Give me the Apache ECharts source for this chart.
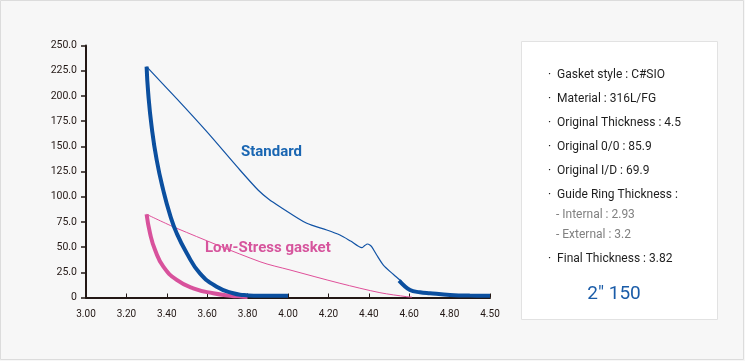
<!DOCTYPE html>
<html>
<head>
<meta charset="utf-8">
<script src="https://cdn.jsdelivr.net/npm/echarts@6/dist/echarts.min.js"></script>
<style>
html,body{margin:0;padding:0;background:#f7f7f7;}
#chart{width:745px;height:361px;}
</style>
</head>
<body>
<div id="chart"></div>
<script>
// X tick labels (as printed in the reference, last one reads 4.50)
var xTickLabels = ['3.00','3.20','3.40','3.60','3.80','4.00','4.20','4.40','4.60','4.80','4.50'];

// Standard gasket: loading curve (thick)
var standardLoad = [
  [3.300,229.0],[3.308,202.6],[3.325,169.4],[3.350,136.4],[3.383,106.0],[3.416,82.0],
  [3.449,63.7],[3.499,43.9],[3.564,24.0],[3.647,10.7],[3.729,4.2],[3.779,2.5],
  [3.830,1.8],[3.900,1.7],[4.000,1.7]
];
// Standard gasket: thin curve
var standardThin = [
  [3.300,229.0],[3.450,197.0],[3.598,164.5],[3.762,126.5],[3.853,106.4],[3.905,97.5],[3.960,90.1],[4.093,73.6],
  [4.192,67.0],[4.257,62.0],[4.310,56.0],[4.365,49.4],[4.380,51.5],[4.393,53.1],[4.405,52.2],[4.414,50.4],[4.439,42.2],
  [4.472,32.2],[4.521,23.0],[4.563,15.7]
];
// Standard gasket: thick tail
var standardTail = [
  [4.550,16.8],[4.604,7.4],[4.653,5.2],[4.703,4.2],[4.802,2.5],[4.900,1.9],[5.000,1.8]
];
// Low-stress gasket: loading curve (thick)
var lowStressLoad = [
  [3.300,82.5],[3.317,63.7],[3.342,47.1],[3.383,30.6],[3.449,17.4],[3.531,9.1],
  [3.630,4.2],[3.713,1.8],[3.779,0.8],[3.800,0.5]
];
// Low-stress gasket: thin curve
var lowStressThin = [
  [3.300,82.5],[3.449,68.7],[3.861,35.5],[4.010,27.3],[4.257,14.1],[4.455,4.8],[4.588,0.8],[4.614,0.4]
];

var infoLines = [
  '·  Gasket style : C#SIO',
  '·  Material : 316L/FG',
  '·  Original Thickness : 4.5',
  '·  Original 0/0 : 85.9',
  '·  Original I/D : 69.9',
  '·  Guide Ring Thickness :'
];
var infoSubLines = ['- Internal : 2.93','- External : 3.2'];
var infoFinal = '·  Final Thickness : 3.82';
var infoTitle = '2" 150';

var chart = echarts.init(document.getElementById('chart'));
var BLUE = '#0b4f9f', PINK = '#d8529c';
var axisColor = '#231815';

var graphics = [
  {type:'rect', z:-10, shape:{x:0.5,y:0.5,width:743,height:359}, style:{fill:'#f7f7f7', stroke:'#dcdcdc', lineWidth:1}},
  {type:'rect', z:-5, shape:{x:521.5,y:41.5,width:196,height:278}, style:{fill:'#ffffff', stroke:'#e2e2e2', lineWidth:1}},
  {type:'text', x:241, y:152, style:{text:'Standard', fill:'#1a66b2', font:'bold 15px Roboto', verticalAlign:'middle'}},
  {type:'text', x:205, y:248, style:{text:'Low-Stress gasket', fill:'#d6559d', font:'bold 15px Roboto', verticalAlign:'middle'}}
];
var ys = [75,99,123,147,171,195];
infoLines.forEach(function(t,i){
  graphics.push({type:'text', x:548, y:ys[i], style:{text:t, fill:'#1e1e1e', font:'12px Roboto', verticalAlign:'middle'}});
});
infoSubLines.forEach(function(t,i){
  graphics.push({type:'text', x:556, y:[215,235][i], style:{text:t, fill:'#808080', font:'12px Roboto', verticalAlign:'middle'}});
});
graphics.push({type:'text', x:548, y:259, style:{text:infoFinal, fill:'#1e1e1e', font:'12px Roboto', verticalAlign:'middle'}});
graphics.push({type:'text', x:614, y:294, style:{text:infoTitle, fill:'#1a5ca8', font:'19px Roboto', align:'center', verticalAlign:'middle'}});

chart.setOption({
  backgroundColor:'#f7f7f7',
  animation:false,
  graphic:graphics,
  grid:{left:86, right:255, top:45.5, bottom:63.5, containLabel:false},
  xAxis:{
    type:'value', min:3, max:5, interval:0.2,
    axisLine:{show:true, onZero:false, lineStyle:{color:axisColor, width:2}},
    axisTick:{show:true, inside:true, length:4, lineStyle:{color:axisColor, width:1}},
    splitLine:{show:false},
    axisLabel:{color:axisColor, fontSize:10, fontFamily:'Roboto', margin:12,
      formatter:function(v){ var i=Math.round((v-3)/0.2); return xTickLabels[i]; }}
  },
  yAxis:{
    type:'value', min:0, max:250, interval:25,
    axisLine:{show:true, lineStyle:{color:axisColor, width:2}},
    axisTick:{show:true, inside:false, length:5, lineStyle:{color:axisColor, width:1.5}},
    splitLine:{show:false},
    axisLabel:{color:axisColor, fontSize:10.5, fontFamily:'Roboto', margin:9,
      formatter:function(v){ return v===0 ? '0' : v.toFixed(1); }}
  },
  series:[
    {type:'line', data:lowStressThin, showSymbol:false, smooth:0.3, lineStyle:{color:'#e0509a', width:1}, z:2},
    {type:'line', data:lowStressLoad, showSymbol:false, smooth:0.5, lineStyle:{color:PINK, width:4}, z:3},
    {type:'line', data:standardThin, showSymbol:false, smooth:0.25, lineStyle:{color:'#1153a5', width:1.2}, z:2},
    {type:'line', data:standardTail, showSymbol:false, smooth:0.4, lineStyle:{color:BLUE, width:4}, z:3},
    {type:'line', data:standardLoad, showSymbol:false, smooth:0.5, lineStyle:{color:BLUE, width:4}, z:4}
  ]
});
</script>
</body>
</html>
